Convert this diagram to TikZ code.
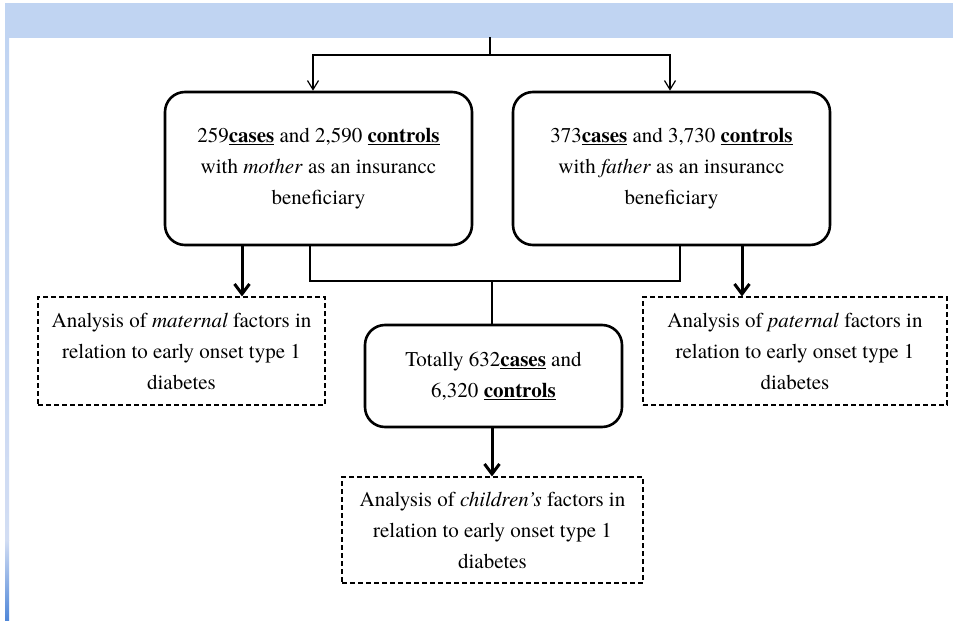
\documentclass[tikz,border=0pt]{standalone}
\usepackage{fontspec}
\setmainfont{texgyretermes-regular.otf}[BoldFont=texgyretermes-bold.otf,
  ItalicFont=texgyretermes-italic.otf, BoldItalicFont=texgyretermes-bolditalic.otf]
\usetikzlibrary{positioning,arrows.meta,calc}

\definecolor{bandblue}{HTML}{C0D4F2}
\definecolor{bandlight}{HTML}{D2DDF3}
\definecolor{stripdark}{HTML}{4E86D8}
\newcommand{\ubold}[1]{\underline{\textbf{#1}}}

\begin{document}
\begin{tikzpicture}[x=1pt, y=-1pt,
  font=\fontsize{21}{31}\selectfont,
  group/.style={draw, line width=2.6pt, rounded corners=20pt, align=center, inner sep=0pt},
  result/.style={draw, line width=1.1pt, dash pattern=on 5pt off 3pt, align=center, inner sep=0pt},
  link/.style={line width=1.2pt},
  feed/.style={line width=1.2pt, -{Straight Barb[length=9pt,width=11pt]}},
  outcome/.style={line width=3pt, -{Straight Barb[length=10pt,width=15pt]}}]
\useasboundingbox (0,0) rectangle (953,621);
% background band and strip
\fill[white] (0,0) rectangle (953,621);
\shade[left color=bandblue, middle color=bandlight, right color=bandblue] (5,3) rectangle (953,37);
\shade[top color=bandblue, bottom color=bandlight] (5,37) rectangle (9,540);
\shade[top color=bandlight, bottom color=stripdark] (5,540) rectangle (9,621);
% beneficiary groups
\node[group, minimum width=307pt, minimum height=153pt] (mother) at (318.5,168.5)
  {259\ubold{cases} and 2,590 \ubold{controls}\\with \textit{mother} as an insurancc\\beneficiary};
\node[group, minimum width=317pt, minimum height=153pt] (father) at (671.5,168.5)
  {373\ubold{cases} and 3,730 \ubold{controls}\\with \textit{father} as an insurancc\\beneficiary};
\node[group, minimum width=257pt, minimum height=102pt] (total) at (493.5,376)
  {Totally 632\ubold{cases} and\\6,320 \ubold{controls}};
% analyses
\node[result, minimum width=287pt, minimum height=108pt] (maternal) at (181.5,351)
  {Analysis of \textit{maternal} factors in\\relation to early onset type 1\\diabetes};
\node[result, minimum width=304pt, minimum height=108pt] (paternal) at (795,351)
  {Analysis of \textit{paternal} factors in\\relation to early onset type 1\\diabetes};
\node[result, minimum width=301pt, minimum height=106pt] (children) at (492.5,530)
  {Analysis of \textit{children's} factors in\\relation to early onset type 1\\diabetes};
% split at the top
\coordinate (top) at (490,37);
\coordinate (split) at (490,55);
\draw[link] (top) -- (split);
\draw[feed] (split) -| (mother.north -| 313,0);
\draw[feed] (split) -| (father.north -| 670,0);
% joining both groups
\coordinate (join) at (492,281);
\draw[link] (mother.south -| 310,0) |- (join) -| (father.south -| 680,0);
\draw[link] (join) -- (total.north -| join);
% analyses
\draw[outcome] (mother.south -| 242,0) -- (maternal.north -| 242,0);
\draw[outcome] (father.south -| 742,0) -- (paternal.north -| 742,0);
\draw[outcome] (total.south -| 492,0) -- (children.north -| 492,0);
\end{tikzpicture}
\end{document}
